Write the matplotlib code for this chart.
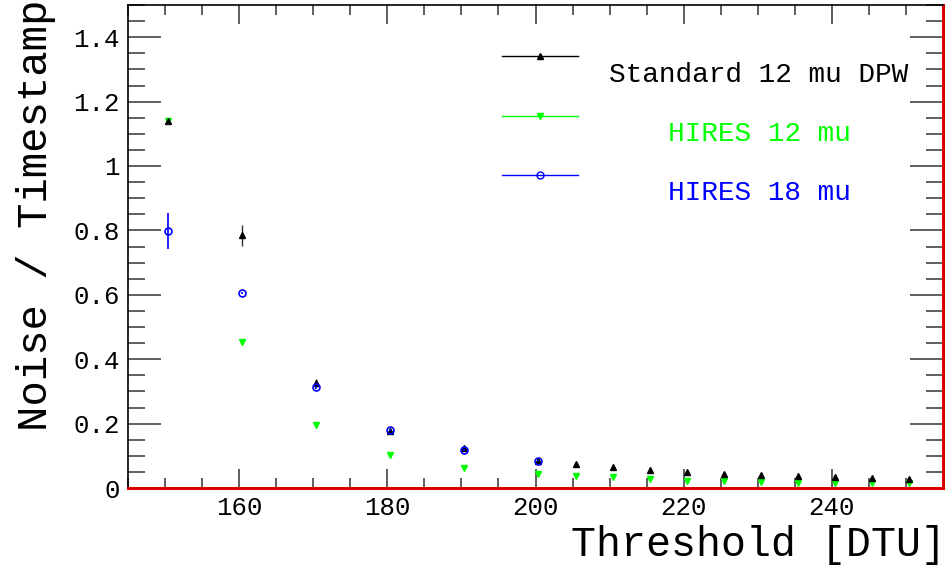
import matplotlib
matplotlib.use("Agg")
import matplotlib.pyplot as plt
from matplotlib.lines import Line2D
from matplotlib.ticker import MultipleLocator, FuncFormatter

# ---- data ----
thr_std = [150.4, 160.4, 170.4, 180.4, 190.4, 200.4, 205.4, 210.4, 215.4, 220.4, 225.4, 230.4, 235.4, 240.4, 245.4, 250.4]
std_12 = [1.14, 0.785, 0.325, 0.178, 0.123, 0.085, 0.075, 0.065, 0.057, 0.049, 0.043, 0.039, 0.037, 0.034, 0.030, 0.027]
std_12_err = [0.006, 0.033, 0.012, 0.008, 0.007, 0.005, 0.005, 0.005, 0.004, 0.004, 0.004, 0.004, 0.004, 0.003, 0.003, 0.003]

thr_h12 = [150.4, 160.4, 170.4, 180.4, 190.4, 200.4, 205.4, 210.4, 215.4, 220.4, 225.4, 230.4, 235.4, 240.4, 245.4, 250.4]
hires_12 = [1.14, 0.453, 0.195, 0.101, 0.061, 0.042, 0.036, 0.033, 0.029, 0.022, 0.021, 0.018, 0.017, 0.016, 0.015, 0.015]
hires_12_err = [0.004, 0.004, 0.003, 0.003, 0.002, 0.002, 0.002, 0.002, 0.002, 0.002, 0.002, 0.002, 0.002, 0.002, 0.002, 0.002]

thr_h18 = [150.4, 160.4, 170.4, 180.4, 190.4, 200.4]
hires_18 = [0.797, 0.605, 0.313, 0.179, 0.117, 0.085]
hires_18_err = [0.056, 0.004, 0.004, 0.003, 0.003, 0.002]

labels = ["Standard 12 mu DPW", "HIRES 12 mu", "HIRES 18 mu"]
colors = ["black", "#00ff00", "#0000ff"]

FONT = "Liberation Mono"

fig = plt.figure(figsize=(9.52, 5.65), dpi=100)
ax = fig.add_axes([128 / 952, 1 - 488 / 565, (943 - 128) / 952, (488 - 5) / 565])

ax.errorbar(thr_std, std_12, yerr=std_12_err, fmt="^", color="black", ms=4,
            elinewidth=1, capsize=0, ecolor="#333333", zorder=3)
ax.errorbar(thr_h12, hires_12, yerr=hires_12_err, fmt="v", color="#00ff00", ms=4,
            elinewidth=1, capsize=0, zorder=2)
ax.errorbar(thr_h18, hires_18, yerr=hires_18_err, fmt="o", mfc="none", mec="#0000ff",
            color="#0000ff", ms=5, mew=1.2, elinewidth=1.2, capsize=0, zorder=4)

ax.set_xlim(145, 255)
ax.set_ylim(0, 1.5)
ax.xaxis.set_major_locator(MultipleLocator(20))
ax.xaxis.set_minor_locator(MultipleLocator(5))
ax.yaxis.set_major_locator(MultipleLocator(0.2))
ax.yaxis.set_minor_locator(MultipleLocator(0.05))
ax.yaxis.set_major_formatter(FuncFormatter(lambda v, p: "0" if abs(v) < 1e-9 else ("1" if abs(v - 1) < 1e-9 else f"{v:.1f}")))

ax.tick_params(which="both", direction="in", top=True, right=True, colors="#444444",
               labelcolor="black", labelsize=18.5, width=1.2)
ax.tick_params(axis="y", which="major", length=24, pad=6)
ax.tick_params(axis="y", which="minor", length=12)
ax.tick_params(axis="x", which="major", length=14, pad=6)
ax.tick_params(axis="x", which="minor", length=7)
for lab in ax.get_xticklabels() + ax.get_yticklabels():
    lab.set_fontfamily(FONT)

for s in ["left", "top"]:
    ax.spines[s].set_color("black")
    ax.spines[s].set_linewidth(1.2)
for s in ["bottom", "right"]:
    ax.spines[s].set_color("#dd0000")
    ax.spines[s].set_linewidth(2.2)

# axis titles
fig.text(946 / 952, 1 - 545 / 565, "Threshold [DTU]", ha="right", va="center",
         fontsize=30, family=FONT)
fig.text(36 / 952, 1.0, "Noise / Timestamp", ha="center", va="top", rotation=90,
         fontsize=30.5, family=FONT)

# legend
leg_y = [56, 116, 175]
txt_y = [75, 134, 193]
markers = [("^", "black", "black"), ("v", "#00ff00", "#00ff00"), ("o", "none", "#0000ff")]
for i in range(3):
    y = 1 - leg_y[i] / 565
    fig.add_artist(Line2D([502 / 952, 578 / 952], [y, y], color=colors[i], lw=1,
                          transform=fig.transFigure))
    m, fc, ec = markers[i]
    fig.add_artist(Line2D([540 / 952], [y], marker=m, ms=4 if m != "o" else 5,
                          mfc=fc, mec=ec, ls="none", transform=fig.transFigure))
    fig.text(759 / 952, 1 - txt_y[i] / 565, labels[i], ha="center", va="center",
             fontsize=20, family=FONT, color=colors[i])

fig.savefig("out.png", dpi=100)
